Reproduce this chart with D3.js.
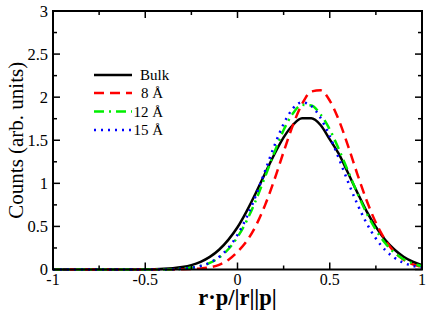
<!DOCTYPE html>
<meta charset="UTF-8">
<style>
body { margin: 0; background: #fff; }
text { font-family: "Liberation Serif", "Times New Roman", serif; }
</style>
<body>
<script src="https://d3js.org/d3.v7.min.js"></script>
<script>
// x grid of the distributions, read every 0.05
var xs = d3.range(-20, 21).map(function(i) { return i / 20; });

var bulk = [0,0,0,0,0,0,0,0,0,0.001,0.002,0.004,0.008,0.016,0.029,0.051,0.089,0.146,0.229,0.344,
            0.49,0.678,0.891,1.117,1.338,1.533,1.677,1.755,1.755,1.677,1.51,1.338,1.117,0.891,0.675,0.494,0.344,0.232,0.148,0.09,0.05];
var a8   = [0,0,0,0,0,0,0,0,0,0,0,0,0,0,0.002,0.005,0.011,0.025,0.054,0.11,
            0.205,0.33,0.51,0.75,1.042,1.365,1.673,1.921,2.065,2.079,1.96,1.73,1.43,1.105,0.8,0.543,0.345,0.205,0.114,0.06,0.03];
var a12  = [0,0,0,0,0,0,0,0,0,0,0,0,0.001,0.003,0.009,0.02,0.04,0.077,0.138,0.235,
            0.376,0.567,0.806,1.079,1.361,1.618,1.811,1.911,1.903,1.8,1.625,1.393,1.137,0.884,0.653,0.46,0.308,0.196,0.119,0.069,0.038];
var a15  = [0,0,0,0,0,0,0,0,0,0,0,0,0.001,0.003,0.009,0.02,0.041,0.08,0.146,0.25,
            0.402,0.607,0.86,1.148,1.437,1.69,1.868,1.94,1.898,1.76,1.546,1.286,1.012,0.757,0.536,0.359,0.228,0.137,0.078,0.042,0.022];

var names  = ["Bulk", "8 \u00C5", "12 \u00C5", "15 \u00C5"];
var colors = ["#000000", "#ff0000", "#00ee00", "#0000ff"];
var dashes = [null, "10,6", "10,5,2,5", "2,5"];
var series = [bulk, a8, a12, a15];

var xTicks = [-1, -0.5, 0, 0.5, 1];
var yTicks = [0, 0.5, 1, 1.5, 2, 2.5, 3];

var W = 436, H = 312;
var pL = 53, pR = 422, pT = 11, pB = 269.5;

var svg = d3.select("body").append("svg")
    .attr("width", W).attr("height", H);

var x = d3.scaleLinear().domain([-1, 1]).range([pL, pR]);
var y = d3.scaleLinear().domain([0, 3]).range([pB, pT]);

// curves
var line = d3.line()
    .x(function(d) { return x(d[0]); })
    .y(function(d) { return y(d[1]); })
    .curve(d3.curveMonotoneX);

series.forEach(function(s, k) {
  svg.append("path")
    .datum(xs.map(function(v, i) { return [v, s[i]]; }))
    .attr("d", line)
    .attr("fill", "none")
    .attr("stroke", colors[k])
    .attr("stroke-width", 2.5)
    .attr("stroke-dasharray", dashes[k]);
});

// frame
svg.append("rect")
    .attr("x", pL).attr("y", pT)
    .attr("width", pR - pL).attr("height", pB - pT)
    .attr("fill", "none").attr("stroke", "#000").attr("stroke-width", 2);

// inward ticks (major + minor) on all four sides
var xMinor = d3.range(-1, 1.001, 0.25);
var yMinor = d3.range(0, 3.001, 0.25);
var g = svg.append("g").attr("stroke", "#000").attr("stroke-width", 1.5);
xMinor.forEach(function(v) {
  var major = Math.abs(v * 2 - Math.round(v * 2)) < 1e-6;
  var len = major ? 7 : 4;
  g.append("line").attr("x1", x(v)).attr("x2", x(v)).attr("y1", pB).attr("y2", pB - len);
  g.append("line").attr("x1", x(v)).attr("x2", x(v)).attr("y1", pT).attr("y2", pT + len);
});
yMinor.forEach(function(v) {
  var major = Math.abs(v * 2 - Math.round(v * 2)) < 1e-6;
  var len = major ? 7 : 4;
  g.append("line").attr("y1", y(v)).attr("y2", y(v)).attr("x1", pL).attr("x2", pL + len);
  g.append("line").attr("y1", y(v)).attr("y2", y(v)).attr("x1", pR).attr("x2", pR - len);
});

// tick labels
svg.selectAll(".xl").data(xTicks).enter().append("text")
    .attr("x", function(d) { return x(d); })
    .attr("y", 284.5)
    .attr("text-anchor", "middle")
    .attr("font-size", 16)
    .text(function(d) { return d; });

svg.selectAll(".yl").data(yTicks).enter().append("text")
    .attr("x", 48)
    .attr("y", function(d) { return y(d) + 5.5; })
    .attr("text-anchor", "end")
    .attr("font-size", 16.5)
    .text(function(d) { return d; });

// axis titles
svg.append("text")
    .attr("x", (pL + pR) / 2).attr("y", 305)
    .attr("text-anchor", "middle")
    .attr("font-size", 22.5).attr("font-weight", "bold")
    .text("r\u00B7p/|r||p|");

svg.append("text")
    .attr("transform", "translate(23," + ((pT + pB) / 2) + ") rotate(-90)")
    .attr("text-anchor", "middle")
    .attr("font-size", 21)
    .text("Counts (arb. units)");

// legend
var ly = [75, 93, 111.5, 130];
names.forEach(function(n, k) {
  svg.append("line")
    .attr("x1", 94).attr("x2", 132)
    .attr("y1", ly[k]).attr("y2", ly[k])
    .attr("stroke", colors[k]).attr("stroke-width", 2.5)
    .attr("stroke-dasharray", dashes[k]);
  svg.append("text")
    .attr("x", k == 0 ? 140 : 163)
    .attr("y", ly[k] + 5)
    .attr("text-anchor", k == 0 ? "start" : "end")
    .attr("font-size", 15)
    .text(n);
});
</script>
</body>
